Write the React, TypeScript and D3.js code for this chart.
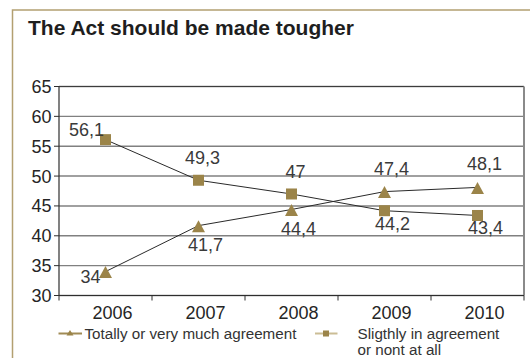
import React from "react";
import * as d3 from "d3";

const title = "The Act should be made tougher";
const years = ["2006", "2007", "2008", "2009", "2010"];
const yTicks = [30, 35, 40, 45, 50, 55, 60, 65];

const agreeName = "Totally or very much agreement";
const agreeValues = [34, 41.7, 44.4, 47.4, 48.1];
const agreeLabels = ["34", "41,7", "44,4", "47,4", "48,1"];
const agreePlacement = ["left", "below", "below", "above", "above"];

const slightName = ["Sligthly in agreement", "or nont at all"];
const slightValues = [56.1, 49.3, 47, 44.2, 43.4];
const slightLabels = ["56,1", "49,3", "47", "44,2", "43,4"];
const slightPlacement = ["left", "above", "above", "below", "below"];

const W = 530;
const H = 358;
const FONT = "'Liberation Sans', Arial, Helvetica, sans-serif";
const GOLD = "#9b8449";
const plot = { left: 59, right: 524, top: 86.5, bottom: 295.5 };

const x = d3.scaleBand<string>().domain(years).range([plot.left, plot.right]);
const y = d3.scaleLinear().domain([30, 65]).range([plot.bottom, plot.top]);
const cx = (yr: string) => (x(yr) as number) + x.bandwidth() / 2;

const line = d3
  .line<number>()
  .x((_, i) => cx(years[i]))
  .y((v) => y(v));

const triPath = (px: number, py: number, hw: number, up: number, down: number) =>
  `M${px},${py - up}L${px + hw},${py + down}L${px - hw},${py + down}Z`;

// label offsets for each placement, per marker type
const offsets: Record<string, Record<string, [number, number]>> = {
  tri: { left: [-15, 11], below: [7, 25], above: [7, -17] },
  sq: { left: [-19, -4], below: [8, 19], above: [4, -16] },
};

export default function App() {
  const labelStyle = { fontFamily: FONT, fontSize: 18, fill: "#3a3a3a" } as const;
  const legendStyle = { fontFamily: FONT, fontSize: 15.2, fill: "#333" } as const;
  return (
    <svg
      width={W}
      height={H}
      style={{ position: "absolute", left: 0, top: 0, background: "#fff" }}
    >
      {/* outer frame */}
      <rect x={12.5} y={10} width={W} height={H + 20} fill="#fff" stroke="#b3a071" strokeWidth={1.5} />
      <text x={28} y={35} style={{ fontFamily: FONT, fontSize: 21, fontWeight: 700, fill: "#1e1e1e" }}>
        {title}
      </text>

      {/* horizontal gridlines */}
      {yTicks.map((t) => (
        <line key={t} x1={plot.left} x2={plot.right} y1={y(t)} y2={y(t)} stroke="#808080" strokeWidth={1.4} />
      ))}
      {/* plot frame */}
      <line x1={plot.left} x2={plot.right} y1={plot.top} y2={plot.top} stroke="#3c3c3c" strokeWidth={1.2} />
      <line x1={plot.right} x2={plot.right} y1={plot.top} y2={plot.bottom} stroke="#8a8a8a" strokeWidth={2} />
      <line x1={plot.left} x2={plot.left} y1={plot.top} y2={plot.bottom} stroke="#2e2e2e" strokeWidth={1.2} />
      <line x1={plot.left} x2={plot.right} y1={plot.bottom} y2={plot.bottom} stroke="#2e2e2e" strokeWidth={1.2} />

      {/* y axis */}
      {yTicks.map((t) => (
        <g key={t}>
          <line x1={plot.left - 5} x2={plot.left} y1={y(t)} y2={y(t)} stroke="#2e2e2e" strokeWidth={1} />
          <text x={51.5} y={y(t)} dy="0.36em" textAnchor="end" style={{ ...labelStyle, fill: "#252525" }}>
            {t}
          </text>
        </g>
      ))}

      {/* x axis */}
      {years.map((yr) => (
        <g key={yr}>
          <line
            x1={x(yr) as number}
            x2={x(yr) as number}
            y1={plot.bottom}
            y2={plot.bottom + 5}
            stroke="#2e2e2e"
            strokeWidth={1}
          />
          <text x={cx(yr) + 7} y={319} textAnchor="middle" style={{ ...labelStyle, fill: "#252525" }}>
            {yr}
          </text>
        </g>
      ))}
      <line x1={plot.right} x2={plot.right} y1={plot.bottom} y2={plot.bottom + 5} stroke="#2e2e2e" />

      {/* series lines */}
      <path d={line(slightValues) ?? ""} fill="none" stroke="#2a2a2a" strokeWidth={1} />
      <path d={line(agreeValues) ?? ""} fill="none" stroke="#2a2a2a" strokeWidth={1} />

      {/* markers */}
      {slightValues.map((v, i) => (
        <rect key={i} x={cx(years[i]) - 5.5} y={y(v) - 5.5} width={11} height={11} fill={GOLD} />
      ))}
      {agreeValues.map((v, i) => (
        <path key={i} d={triPath(cx(years[i]), y(v) + 1.5, 6.5, 7, 5)} fill={GOLD} />
      ))}

      {/* value labels */}
      {slightValues.map((v, i) => {
        const [dx, dy] = offsets.sq[slightPlacement[i]];
        return (
          <text key={i} x={cx(years[i]) + dx} y={y(v) + dy} textAnchor="middle" style={labelStyle}>
            {slightLabels[i]}
          </text>
        );
      })}
      {agreeValues.map((v, i) => {
        const [dx, dy] = offsets.tri[agreePlacement[i]];
        return (
          <text key={i} x={cx(years[i]) + dx} y={y(v) + dy} textAnchor="middle" style={labelStyle}>
            {agreeLabels[i]}
          </text>
        );
      })}

      {/* legend */}
      <g>
        <line x1={58.5} x2={82} y1={333.5} y2={333.5} stroke="#a08b55" strokeWidth={2} />
        <path d={triPath(70, 333.5, 3.5, 3.5, 2)} fill={GOLD} />
        <text x={84.5} y={338.5} style={legendStyle}>
          {agreeName}
        </text>
        <line x1={315} x2={337.5} y1={333.5} y2={333.5} stroke="#cbbd95" strokeWidth={2} />
        <rect x={323} y={330.5} width={6} height={6} fill={GOLD} />
        <text x={357.5} y={338.5} style={legendStyle}>
          {slightName[0]}
        </text>
        <text x={357.5} y={355.3} style={legendStyle}>
          {slightName[1]}
        </text>
      </g>
    </svg>
  );
}
